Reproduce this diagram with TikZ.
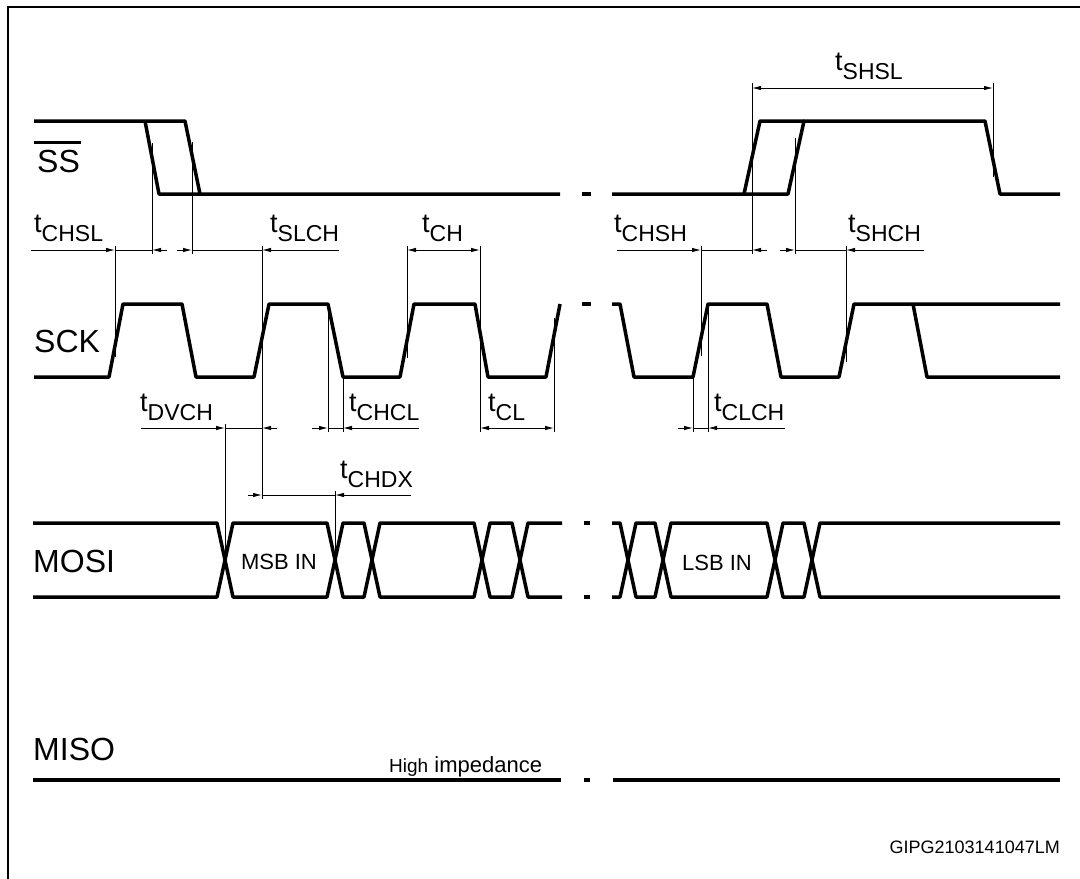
\documentclass[tikz,border=0pt]{standalone}
\usepackage{fontspec}
\setmainfont{Liberation Sans}
\usetikzlibrary{positioning,arrows.meta}

\newcommand{\tname}[1]{\fontsize{27}{27}\selectfont t\raisebox{-9pt}{\fontsize{23}{23}\selectfont #1}}

\begin{document}
\begin{tikzpicture}[x=1pt,y=-1pt,
  wave/.style={line width=3.5pt,line join=round},
  dim/.style={line width=0.9pt},
  arr/.style={dim,-{Latex[length=9pt,width=4.5pt]}},
  both/.style={dim,{Latex[length=9pt,width=4.5pt]}-{Latex[length=9pt,width=4.5pt]}},
  sig/.style={inner sep=0pt,anchor=base west,font=\fontsize{32}{32}\selectfont},
  tlbl/.style={inner sep=0pt,anchor=base west},
  cell/.style={inner sep=0pt,anchor=base,font=\fontsize{22}{22}\selectfont}]
  \useasboundingbox (0,0) rectangle (1080,879);

  % frame
  \draw[line width=2pt] (1080,7) -- (8,7) -- (8,879);

  % signal names
  \node[sig] (ss)   at (37,172) {SS};
  \draw[line width=2.4pt] ([xshift=-3pt,yshift=7pt]ss.north west) -- ([xshift=1pt,yshift=7pt]ss.north east);
  \node[sig] (sck)  at (34,352) {SCK};
  \node[sig] (mosi) at (33,572) {MOSI};
  \node[sig] (miso) at (33,760) {MISO};

  % SS
  \draw[wave] (34,121) -- (185,121) -- (200,194) -- (560,194);
  \draw[wave] (145,121) -- (159,194) -- (200,194);
  \draw[wave] (582,194) -- (591,194);
  \draw[wave] (612,194) -- (788,194) -- (804,121) -- (985,121) -- (1000,194) -- (1060,194);
  \draw[wave] (744,194) -- (760,121) -- (804,121);

  % SCK
  \draw[wave] (34,377) -- (109,377) -- (123,304) -- (182,304) -- (196,377)
    -- (254,377) -- (269,304) -- (328,304) -- (343,377) -- (400,377) -- (414,304)
    -- (475,304) -- (488,377) -- (546,377) -- (560,304);
  \draw[wave] (582,304) -- (591,304);
  \draw[wave] (612,304) -- (620,304) -- (634,377) -- (693,377) -- (708,304)
    -- (767,304) -- (781,377) -- (839,377) -- (854,304) -- (1060,304);
  \draw[wave] (913,304) -- (927,377) -- (1060,377);

  % MOSI
  \draw[wave] (33,523) -- (217,523) -- (233,597) -- (327,597) -- (343,523) -- (364,523)
    -- (380,597) -- (474,597) -- (490,523) -- (512,523) -- (528,597) -- (562,597);
  \draw[wave] (33,597) -- (217,597) -- (233,523) -- (327,523) -- (343,597) -- (364,597)
    -- (380,523) -- (474,523) -- (490,597) -- (512,597) -- (528,523) -- (562,523);
  \draw[wave] (584,523) -- (590,523);
  \draw[wave] (584,597) -- (590,597);
  \draw[wave] (612,523) -- (620,523) -- (636,597) -- (655,597) -- (671,523) -- (767,523)
    -- (783,597) -- (804,597) -- (820,523) -- (1060,523);
  \draw[wave] (612,597) -- (620,597) -- (636,523) -- (655,523) -- (671,597) -- (767,597)
    -- (783,523) -- (804,523) -- (820,597) -- (1060,597);
  \node[cell] (msb) at (279,569) {MSB IN};
  \node[cell] (lsb) at (717,570) {LSB IN};

  % MISO
  \draw[wave] (33,780) -- (561,780);
  \draw[wave] (584,780) -- (590,780);
  \draw[wave] (613,780) -- (1060,780);
  \node[cell,anchor=base west] (hiz) at (389,772)
    {{\fontsize{19}{19}\selectfont High} impedance};

  % extension lines
  \draw[dim] (115,246) -- (115,357);
  \draw[dim] (152,143) -- (152,254);
  \draw[dim] (192,142) -- (192,254);
  \draw[dim] (262,246) -- (262,499);
  \draw[dim] (407,246) -- (407,358);
  \draw[dim] (480,246) -- (480,432);
  \draw[dim] (554,318) -- (554,432);
  \draw[dim] (225,424) -- (225,556);
  \draw[dim] (328,304) -- (328,432);
  \draw[dim] (343,377) -- (343,432);
  \draw[dim] (335,491) -- (335,556);
  \draw[dim] (701,246) -- (701,356);
  \draw[dim] (752,83) -- (752,254);
  \draw[dim] (795,138) -- (795,254);
  \draw[dim] (846,246) -- (846,362);
  \draw[dim] (993,83) -- (993,177);
  \draw[dim] (693,377) -- (693,432);
  \draw[dim] (708,304) -- (708,432);

  % timing marks, row 1
  \coordinate (chslA) at (115,250);
  \coordinate (chslB) at (152,250);
  \draw[arr] ([xshift=-84pt]chslA) -- (chslA);
  \draw[dim] (chslA) -- (chslB);
  \draw[arr] ([xshift=15pt]chslB) -- (chslB);
  \node[tlbl] (tchsl) at (34,232) {\tname{CHSL}};

  \coordinate (slchA) at (192,250);
  \coordinate (slchB) at (262,250);
  \draw[arr] ([xshift=-15pt]slchA) -- (slchA);
  \draw[dim] (slchA) -- (slchB);
  \draw[arr] ([xshift=77pt]slchB) -- (slchB);
  \node[tlbl] (tslch) at (270,232) {\tname{SLCH}};

  \coordinate (chA) at (407,250);
  \coordinate (chB) at (480,250);
  \draw[both] (chA) -- (chB);
  \node[tlbl] (tch) at (422,232) {\tname{CH}};

  \coordinate (chshA) at (701,250);
  \coordinate (chshB) at (752,250);
  \draw[arr] ([xshift=-84pt]chshA) -- (chshA);
  \draw[dim] (chshA) -- (chshB);
  \draw[arr] ([xshift=15pt]chshB) -- (chshB);
  \node[tlbl] (tchsh) at (614,232) {\tname{CHSH}};

  \coordinate (shchA) at (795,250);
  \coordinate (shchB) at (846,250);
  \draw[arr] ([xshift=-15pt]shchA) -- (shchA);
  \draw[dim] (shchA) -- (shchB);
  \draw[arr] ([xshift=78pt]shchB) -- (shchB);
  \node[tlbl] (tshch) at (848,232) {\tname{SHCH}};

  \coordinate (shslA) at (752,88);
  \coordinate (shslB) at (993,88);
  \draw[both] (shslA) -- (shslB);
  \node[tlbl] (tshsl) at (835,70) {\tname{SHSL}};

  % timing marks, row 2
  \coordinate (dvchA) at (225,428);
  \coordinate (dvchB) at (262,428);
  \draw[arr] ([xshift=-84pt]dvchA) -- (dvchA);
  \draw[dim] (dvchA) -- (dvchB);
  \draw[arr] ([xshift=15pt]dvchB) -- (dvchB);
  \node[tlbl] (tdvch) at (140,411) {\tname{DVCH}};

  \coordinate (chclA) at (328,428);
  \coordinate (chclB) at (343,428);
  \draw[arr] ([xshift=-16pt]chclA) -- (chclA);
  \draw[dim] (chclA) -- (chclB);
  \draw[arr] ([xshift=76pt]chclB) -- (chclB);
  \node[tlbl] (tchcl) at (349,411) {\tname{CHCL}};

  \coordinate (clA) at (480,428);
  \coordinate (clB) at (554,428);
  \draw[both] (clA) -- (clB);
  \node[tlbl] (tcl) at (488,411) {\tname{CL}};

  \coordinate (clchA) at (693,428);
  \coordinate (clchB) at (708,428);
  \draw[arr] ([xshift=-15pt]clchA) -- (clchA);
  \draw[dim] (clchA) -- (clchB);
  \draw[arr] ([xshift=77pt]clchB) -- (clchB);
  \node[tlbl] (tclch) at (714,411) {\tname{CLCH}};

  % timing marks, row 3
  \coordinate (chdxA) at (262,495);
  \coordinate (chdxB) at (335,495);
  \draw[arr] ([xshift=-14pt]chdxA) -- (chdxA);
  \draw[dim] (chdxA) -- (chdxB);
  \draw[arr] ([xshift=76pt]chdxB) -- (chdxB);
  \node[tlbl] (tchdx) at (340,478) {\tname{CHDX}};

  % drawing code
  \node[tlbl,anchor=base east,font=\fontsize{18}{18}\selectfont] (code) at (1060,853) {GIPG2103141047LM};
\end{tikzpicture}
\end{document}
